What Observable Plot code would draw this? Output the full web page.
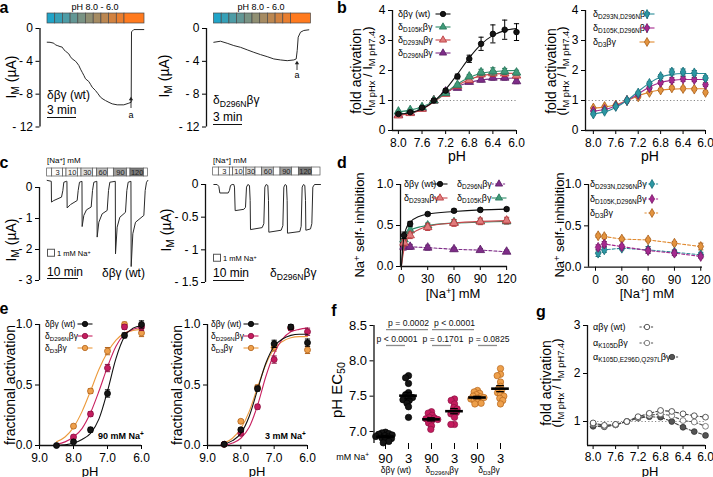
<!DOCTYPE html>
<html><head><meta charset="utf-8">
<script src="https://cdn.jsdelivr.net/npm/d3@7"></script>
<script src="https://cdn.jsdelivr.net/npm/@observablehq/plot@0.6"></script>
<style>
body{margin:0;background:#fff;}
#fig{position:relative;width:713px;height:477px;overflow:hidden;font-family:"Liberation Sans",Arial,Helvetica,sans-serif;color:#000;background:#fff;}
#fig svg{position:absolute;overflow:visible;}
.t{position:absolute;white-space:nowrap;line-height:1;}
.t sub{font-size:72%;vertical-align:baseline;position:relative;top:0.3em;}
.t sup{font-size:72%;vertical-align:baseline;position:relative;top:-0.4em;}
</style></head><body><div id="fig"></div>
<script>
// ================= DATA =================
// panel a: pH protocol and traces [time (min), current (µA)]
const pHSteps = [8.0, 7.8, 7.6, 7.4, 7.2, 7.0, 6.8, 6.6, 6.4, 6.2, 6.0];
const pHStepEdges = [0.75, 1.52, 2.29, 3.06, 3.83, 4.6, 5.37, 6.14, 6.91, 7.68, 8.45, 10.45];
const traceA_wt = [[0.72,-1.67],[1.0,-1.68],[1.38,-1.79],[1.55,-2.0],[1.72,-2.07],[2.0,-2.2],[2.22,-2.27],[2.4,-2.6],[2.55,-2.76],[2.88,-3.09],[3.05,-3.45],[3.22,-3.7],[3.55,-3.98],[3.7,-4.2],[3.88,-4.5],[4.05,-4.95],[4.22,-5.33],[4.4,-5.75],[4.55,-6.13],[4.88,-6.46],[5.05,-6.8],[5.22,-7.15],[5.55,-7.56],[5.8,-7.95],[6.05,-8.37],[6.3,-8.6],[6.55,-8.78],[6.9,-9.0],[7.22,-9.18],[7.72,-9.3],[8.38,-9.3],[8.88,-9.1],[9.12,-8.98],[9.15,-0.41],[9.38,-0.13],[10.38,-0.13]];
const traceA_d296n = [[0.73,-1.68],[1.4,-1.55],[2.07,-1.8],[2.73,-2.08],[3.4,-2.29],[4.07,-2.6],[4.73,-2.9],[5.4,-3.18],[6.07,-3.43],[6.73,-3.71],[7.4,-3.83],[8.07,-3.92],[8.73,-3.83],[8.97,-3.71],[9.07,-2.7],[9.17,-1.06],[9.4,-0.45],[9.73,-0.24],[10.23,-0.16]];

// panel c: Na+ protocol and traces [time (min), current (µA)]
const naSteps = [1, 3, 1, 10, 1, 30, 1, 60, 1, 90, 1, 120, 1];
const naEdges_wt = [2.47, 4.09, 7.63, 8.71, 12.37, 13.55, 17.31, 18.6, 22.15, 23.98, 28.28, 29.35, 33.66, 34.95];
const naEdges_d296n = [2.47, 4.3, 7.85, 8.92, 12.37, 13.23, 16.13, 18.28, 22.04, 24.19, 27.96, 30.11, 34.41, 37.1];
const traceC_wt = [[2.47,0.23],[3.8,0.2],[3.87,-0.47],[4.62,-0.42],[7.1,-0.31],[7.53,-0.1],[7.85,0.17],[8.71,0.2],[8.85,0.2],[8.92,-0.66],[10.0,-0.55],[12.15,-0.42],[12.47,-0.1],[12.9,0.17],[13.7,0.2],[13.76,-1.26],[14.3,-0.9],[15.16,-0.72],[16.67,-0.63],[17.1,-0.1],[17.53,0.17],[18.5,0.2],[18.6,-1.6],[19.14,-1.12],[20.21,-0.85],[21.83,-0.74],[22.26,-0.1],[22.69,0.17],[24.45,0.2],[24.52,-2.14],[25.05,-1.28],[25.91,-0.96],[27.74,-0.8],[28.17,-0.1],[28.6,0.17],[29.5,0.2],[29.57,-2.55],[30.11,-1.49],[30.97,-1.12],[33.66,-0.9],[34.09,-0.1],[34.52,0.17],[34.95,0.23]];
const traceC_d296n = [[2.69,0],[3.76,0],[4.3,-0.03],[4.62,-0.13],[7.31,-0.13],[7.74,-0.09],[8.06,-0.015],[8.6,0],[9.14,0],[9.35,-0.04],[9.57,-0.4],[12.37,-0.38],[12.9,-0.35],[13.23,-0.04],[13.66,0],[14.19,-0.015],[14.41,-0.245],[14.52,-0.69],[18.28,-0.66],[18.82,-0.6],[19.14,-0.04],[19.57,0],[20.11,-0.015],[20.32,-0.245],[20.43,-0.73],[24.41,-0.7],[24.95,-0.63],[25.27,-0.04],[25.7,0],[26.13,-0.015],[26.34,-0.245],[26.45,-0.745],[30.43,-0.72],[30.86,-0.64],[31.18,-0.04],[31.61,0],[32.04,-0.015],[32.26,-0.245],[32.37,-0.7],[33.87,-0.68],[34.3,-0.6],[34.62,-0.04],[35.16,0],[37.1,0]];

// panel b: fold activation vs pH
const pH11 = [8.0, 7.8, 7.6, 7.4, 7.2, 7.0, 6.8, 6.6, 6.4, 6.2, 6.0];
const b_wt = [0.55, 0.61, 0.76, 1.0, 1.33, 1.8, 2.39, 2.89, 3.22, 3.36, 3.28];
const b_wt_err = [0.03, 0.03, 0.03, 0, 0.05, 0.08, 0.12, 0.22, 0.3, 0.32, 0.28];
const b_wt_fit = [0.54, 0.6, 0.72, 0.97, 1.37, 1.88, 2.42, 2.87, 3.17, 3.33, 3.4];
const b_d105k = [0.63, 0.68, 0.78, 1.0, 1.25, 1.52, 1.8, 1.94, 1.97, 1.97, 1.93];
const b_d105k_err = [0.03, 0.03, 0.03, 0, 0.04, 0.05, 0.06, 0.1, 0.12, 0.1, 0.08];
const b_d105k_fit = [0.62, 0.68, 0.79, 0.98, 1.26, 1.55, 1.77, 1.9, 1.96, 1.99, 2.0];
const b_d293n = [0.5, 0.58, 0.72, 1.0, 1.22, 1.48, 1.68, 1.87, 1.9, 1.9, 1.83];
const b_d293n_err = [0.03, 0.03, 0.03, 0, 0.04, 0.05, 0.06, 0.08, 0.1, 0.1, 0.08];
const b_d293n_fit = [0.5, 0.57, 0.7, 0.95, 1.24, 1.5, 1.7, 1.82, 1.88, 1.9, 1.91];
const b_d296n = [0.52, 0.6, 0.74, 1.0, 1.3, 1.42, 1.62, 1.69, 1.76, 1.76, 1.64];
const b_d296n_err = [0.03, 0.03, 0.03, 0, 0.04, 0.05, 0.06, 0.07, 0.08, 0.08, 0.08];
const b_d296n_fit = [0.51, 0.58, 0.72, 0.97, 1.25, 1.47, 1.6, 1.68, 1.72, 1.74, 1.75];
const b_dd1 = [0.55, 0.64, 0.8, 1.0, 1.25, 1.57, 1.8, 1.95, 1.95, 1.92, 1.75];
const b_dd1_err = [0.03, 0.03, 0.03, 0, 0.04, 0.05, 0.06, 0.1, 0.1, 0.08, 0.07];
const b_dd1_fit = [0.55, 0.62, 0.77, 1.0, 1.3, 1.58, 1.78, 1.87, 1.9, 1.9, 1.9];
const b_dd2 = [0.65, 0.7, 0.82, 1.0, 1.2, 1.42, 1.6, 1.68, 1.72, 1.7, 1.53];
const b_dd2_err = [0.03, 0.03, 0.03, 0, 0.04, 0.05, 0.06, 0.08, 0.08, 0.07, 0.06];
const b_dd2_fit = [0.65, 0.7, 0.82, 1.0, 1.22, 1.45, 1.6, 1.67, 1.7, 1.7, 1.7];
const b_d3 = [0.75, 0.8, 0.85, 1.0, 1.12, 1.27, 1.35, 1.42, 1.4, 1.38, 1.27];
const b_d3_err = [0.02, 0.02, 0.02, 0, 0.03, 0.03, 0.04, 0.05, 0.05, 0.05, 0.05];
const b_d3_fit = [0.75, 0.78, 0.86, 1.0, 1.15, 1.28, 1.35, 1.38, 1.39, 1.39, 1.39];

// panel d: Na+ self-inhibition vs [Na+]
const naConc = [3, 10, 30, 60, 90, 120];
const naFitX = [0, 1, 2, 3, 5, 10, 20, 30, 60, 90, 120];
const d_wt = [0.38, 0.52, 0.64, 0.68, 0.69, 0.7];
const d_wt_err = [0.04, 0.03, 0.02, 0.02, 0.02, 0.02];
const d_wt_fit = [0, 0.16, 0.28, 0.36, 0.45, 0.54, 0.61, 0.64, 0.67, 0.69, 0.7];
const d_d293n = [0.29, 0.38, 0.48, 0.53, 0.55, 0.56];
const d_d293n_err = [0.04, 0.04, 0.04, 0.04, 0.04, 0.04];
const d_d293n_fit = [0, 0.08, 0.15, 0.21, 0.29, 0.38, 0.45, 0.49, 0.53, 0.55, 0.56];
const d_d105k = [0.33, 0.44, 0.5, 0.54, 0.55, 0.55];
const d_d105k_err = [0.04, 0.04, 0.03, 0.03, 0.03, 0.03];
const d_d105k_fit = [0, 0.12, 0.21, 0.28, 0.36, 0.44, 0.48, 0.5, 0.53, 0.54, 0.55];
const d_d296n = [0.24, 0.24, 0.23, 0.21, 0.2, 0.18];
const d_d296n_err = [0.04, 0.03, 0.03, 0.02, 0.02, 0.02];
const d_dd1 = [0.17, 0.21, 0.23, 0.21, 0.18, 0.15];
const d_dd1_err = [0.04, 0.03, 0.02, 0.04, 0.03, 0.03];
const d_dd2 = [0.24, 0.28, 0.25, 0.2, 0.17, 0.13];
const d_dd2_err = [0.03, 0.03, 0.02, 0.03, 0.03, 0.02];
const d_d3 = [0.38, 0.37, 0.34, 0.33, 0.29, 0.25];
const d_d3_err = [0.02, 0.02, 0.02, 0.02, 0.02, 0.04];

// panel e: fractional activation vs pH
const eX = [8.5, 8.0, 7.5, 7.0, 6.5, 6.0];
const eFitX = [8.5, 8.25, 8.0, 7.75, 7.5, 7.25, 7.0, 6.75, 6.5, 6.25, 6.0];
const e90_wt = [0, 0.03, 0.13, 0.43, 0.91, 1.0];
const e90_wt_fit = [0, 0.005, 0.02, 0.05, 0.1, 0.22, 0.45, 0.72, 0.9, 0.97, 0.99];
const e90_d296n = [null, 0.07, 0.26, 0.64, 0.98, 0.98];
const e90_d296n_fit = [0.01, 0.03, 0.07, 0.14, 0.27, 0.45, 0.65, 0.82, 0.92, 0.96, 0.98];
const e90_d3 = [null, 0.16, 0.45, 0.78, 1.0, 0.93];
const e90_d3_fit = [0.03, 0.07, 0.15, 0.28, 0.45, 0.63, 0.77, 0.87, 0.93, 0.95, 0.96];
const e3_wt = [0.01, 0.13, 0.47, 0.84, 0.98, 0.85];
const e3_wt_fit = [0.01, 0.04, 0.1, 0.24, 0.46, 0.68, 0.82, 0.88, 0.91, 0.92, 0.92];
const e3_d296n = [0.01, 0.1, 0.32, 0.71, 0.97, 0.94];
const e3_d296n_fit = [0, 0.02, 0.06, 0.15, 0.33, 0.57, 0.76, 0.88, 0.94, 0.96, 0.97];
const e3_d3 = [0.01, 0.2, 0.48, 0.81, 0.97, 0.79];
const e3_d3_fit = [0.02, 0.06, 0.14, 0.28, 0.48, 0.67, 0.8, 0.86, 0.89, 0.9, 0.9];
const e_err = [0, 0.015, 0.02, 0.03, 0.02, 0.03];

// panel f: pH EC50 per oocyte
const fNa = ["90", "3", "90", "3", "90", "3"];
const f_wt90 = [6.99, 6.98, 6.97, 6.96, 6.95, 6.94, 6.93, 6.92, 6.91, 6.9, 6.88, 6.86, 6.84];
const f_wt3 = [7.79, 7.76, 7.68, 7.55, 7.52, 7.5, 7.48, 7.47, 7.45, 7.44, 7.4, 7.35, 7.2];
const f_d296n90 = [7.28, 7.26, 7.23, 7.2, 7.19, 7.18, 7.17, 7.15, 7.12, 7.08, 7.03];
const f_d296n3 = [7.46, 7.44, 7.39, 7.34, 7.32, 7.29, 7.27, 7.25, 7.2, 7.1, 7.1];
const f_d390 = [7.58, 7.56, 7.54, 7.52, 7.5, 7.49, 7.48, 7.47, 7.46, 7.44, 7.42, 7.4, 7.39];
const f_d33 = [7.89, 7.81, 7.79, 7.7, 7.64, 7.6, 7.58, 7.55, 7.52, 7.5, 7.47, 7.44, 7.39];
const fComparisons = [
  {a: 0, b: 2, row: 1, p: "p = 0.0002"},
  {a: 2, b: 4, row: 1, p: "p < 0.0001"},
  {a: 0, b: 1, row: 2, p: "p < 0.0001"},
  {a: 2, b: 3, row: 2, p: "p = 0.1701"},
  {a: 4, b: 5, row: 2, p: "p = 0.0825"}
];

// panel g: fold activation vs pH (alpha subunits)
const g_wt = [0.97, 0.92, 0.94, 1.0, 1.1, 1.17, 1.23, 1.21, 1.16, 1.12, 1.09];
const g_k105d = [0.95, 0.9, 0.93, 1.0, 1.08, 1.13, 1.16, 1.12, 1.02, 0.99, 0.9];
const g_triple = [0.9, 0.89, 0.93, 1.0, 1.07, 1.1, 1.09, 1.0, 0.88, 0.79, 0.71];
const g_err = [0.02, 0.02, 0.02, 0, 0.02, 0.02, 0.02, 0.02, 0.02, 0.02, 0.03];

// ================= HELPERS =================
const FONT = '"Liberation Sans", Arial, Helvetica, sans-serif';
const fig = document.getElementById("fig");
const COL = {
  wt: {fill: "#151515", stroke: "#000", line: "#111"},
  d105k: {fill: "#3f9a78", stroke: "#27765a", line: "#2f8a68"},
  d293n: {fill: "#e07c7c", stroke: "#b8363b", line: "#c8464a"},
  d296n: {fill: "#7e2d88", stroke: "#5a1d64", line: "#7e2d88"},
  dd1: {fill: "#2c97a3", stroke: "#1b6e78", line: "#2a8c98"},
  dd2: {fill: "#a5298f", stroke: "#781a68", line: "#a5298f"},
  d3: {fill: "#e3943f", stroke: "#a9601c", line: "#e08a30"},
  eD296N: {fill: "#c41c5e", stroke: "#8c1243", line: "#c8205f"},
  eD3: {fill: "#eea04b", stroke: "#b4661e", line: "#ec9a3c"},
  gwt: {fill: "#fff", stroke: "#333", line: "#444"},
  gk: {fill: "#fff", stroke: "#666", line: "#555"},
  gt: {fill: "#555", stroke: "#333", line: "#444"}
};

function mkPlot(fr, opts, fontSize = 12) {
  const pad = {l: 48, r: 25, t: 15, b: 30};
  const left = Math.floor(fr.L - pad.l), top = Math.floor(fr.T - pad.t);
  const width = Math.ceil(fr.R + pad.r) - left;
  const height = Math.ceil(fr.B + pad.b) - top;
  const svg = Plot.plot({
    width, height,
    marginLeft: fr.L - left, marginTop: fr.T - top,
    marginRight: width - (fr.R - left), marginBottom: height - (fr.B - top),
    style: {fontFamily: FONT, fontSize: fontSize + "px", background: "none", overflow: "visible", color: "#000"},
    ...opts
  });
  svg.style.position = "absolute";
  svg.style.left = left + "px";
  svg.style.top = top + "px";
  svg.style.maxWidth = "none";
  fig.appendChild(svg);
  return svg;
}
function txt(html, x, y, o = {}) {
  const d = document.createElement("div");
  d.className = "t";
  d.innerHTML = html;
  d.style.left = x + "px";
  d.style.top = y + "px";
  d.style.fontSize = (o.size || 12) + "px";
  if (o.bold) d.style.fontWeight = "bold";
  if (o.color) d.style.color = o.color;
  const tx = o.anchor === "middle" ? "-50%" : o.anchor === "end" ? "-100%" : "0";
  d.style.transform = `translate(${tx},-50%)`;
  fig.appendChild(d);
}
function vtxt(html, x, y, size) {
  const d = document.createElement("div");
  d.className = "t";
  d.innerHTML = html;
  d.style.left = x + "px";
  d.style.top = y + "px";
  d.style.fontSize = size + "px";
  d.style.transform = "translate(-50%,-50%) rotate(-90deg)";
  fig.appendChild(d);
}
function hline(x, y, w) {
  const d = document.createElement("div");
  d.style.cssText = `position:absolute;left:${x}px;top:${y}px;width:${w}px;height:1.3px;background:#111;`;
  fig.appendChild(d);
}
function arrow(x, y1, y2) {
  fig.insertAdjacentHTML("beforeend",
    `<svg width="8" height="${y2 - y1 + 2}" style="left:${x - 4}px;top:${y1 - 1}px">
      <line x1="4" y1="2" x2="4" y2="${y2 - y1 + 1}" stroke="#222" stroke-width="0.9"/>
      <path d="M1.8,4.2 L4,0.8 L6.2,4.2 Z" fill="#222"/></svg>`);
}
const SYM = {circle: d3.symbolCircle, triangle: d3.symbolTriangle, diamond: d3.symbolDiamond};
function legendSym(cx, cy, c, shape, dashed, r = 2.7) {
  const path = d3.symbol(SYM[shape], Math.PI * r * r)();
  fig.insertAdjacentHTML("beforeend",
    `<svg width="20" height="12" viewBox="-10 -6 20 12" style="left:${cx - 10}px;top:${cy - 6}px">
      <line x1="-7.5" y1="0" x2="7.5" y2="0" stroke="${c.line}" stroke-width="1.1" ${dashed ? 'stroke-dasharray="2.2,1.6"' : ''}/>
      <path d="${path}" fill="${c.fill}" stroke="${c.stroke}" stroke-width="0.8"/></svg>`);
}
function legend(x, y, html, sx, c, shape, dashed, size = 9) {
  txt(html, x, y, {size});
  legendSym(sx, y, c, shape, dashed);
}

const cap = {draw(ctx) { ctx.moveTo(-2.6, 0); ctx.lineTo(2.6, 0); }};
function seriesMarks(s) {
  const pts = s.x.map((x, i) => ({x, v: s.v[i], e: s.e ? s.e[i] : 0})).filter(d => d.v != null);
  const m = [];
  if (s.fit) m.push(Plot.line(s.fitX.map((x, i) => ({x, v: s.fit[i]})),
    {x: "x", y: "v", stroke: s.c.line, strokeWidth: 1.1, curve: "monotone-x"}));
  if (s.connect) m.push(Plot.line(pts, {x: "x", y: "v", stroke: s.c.line, strokeWidth: 1.1,
    strokeDasharray: s.dash ? "3,2" : "none"}));
  const eb = pts.filter(d => d.e > 0);
  m.push(Plot.ruleX(eb, {x: "x", y1: d => d.v - d.e, y2: d => d.v + d.e, stroke: s.c.stroke, strokeWidth: 1}));
  m.push(Plot.dot(eb, {x: "x", y: d => d.v + d.e, symbol: cap, r: 3, stroke: s.c.stroke, fill: "none", strokeWidth: 1}));
  m.push(Plot.dot(eb, {x: "x", y: d => d.v - d.e, symbol: cap, r: 3, stroke: s.c.stroke, fill: "none", strokeWidth: 1}));
  m.push(Plot.dot(pts, {x: "x", y: "v", symbol: s.symbol || "circle", r: s.r || 2.8,
    fill: s.c.fill, stroke: s.c.stroke, strokeWidth: 0.8}));
  return m;
}
const f1 = d3.format(".1f");
const fInt = d3.format("d");
const fmtNeg = d => d === 0 ? "0" : "- " + Math.abs(d);
const axisLine = {stroke: "#111", strokeWidth: 1.3};
const refLine = {stroke: "#888", strokeWidth: 1.1, strokeDasharray: "1.2,2.2"};
const AX = {tickSize: 4, tickPadding: 3, label: null};

// frames: pixel positions of each plot area in the 713x477 figure
const FR = {
  aL: {L: 39.5, R: 149.5, T: 28, B: 126.5}, aR: {L: 206, R: 316, T: 28, B: 126.5},
  barAL: {L: 39.5, R: 149.5, T: 13, B: 23}, barAR: {L: 206, R: 316, T: 13, B: 23},
  bL: {L: 392, R: 516, T: 10, B: 130}, bR: {L: 585, R: 705, T: 10, B: 130},
  cL: {L: 39, R: 150.6, T: 187, B: 280}, cR: {L: 205, R: 322.8, T: 184, B: 282},
  barCL: {L: 39, R: 150.6, T: 168, B: 176}, barCR: {L: 205, R: 322.8, T: 167, B: 175},
  dL: {L: 400, R: 507, T: 184, B: 266}, dR: {L: 588, R: 702, T: 184, B: 266.7},
  eL: {L: 39, R: 141, T: 324, B: 445}, eR: {L: 207, R: 307, T: 324, B: 445},
  f: {L: 373.5, R: 511.5, T: 325, B: 443},
  g: {L: 587, R: 705, T: 325, B: 445}
};

// ================= PANEL a =================
const pHCells = pHSteps.map((p, i) => ({pH: p, t0: pHStepEdges[i], t1: pHStepEdges[i + 1]}));
for (const [fr, bar, trace] of [[FR.aL, FR.barAL, traceA_wt], [FR.aR, FR.barAR, traceA_d296n]]) {
  mkPlot(bar, {
    x: {domain: [0, 11], axis: null},
    color: {type: "linear", domain: [8.0, 6.0], range: ["#20a4c8", "#ff7a1e"], interpolate: "rgb"},
    marks: [Plot.rect(pHCells, {x1: "t0", x2: "t1", fill: "pH", stroke: "#4a4a4a", strokeWidth: 0.7})]
  });
  mkPlot(fr, {
    x: {domain: [0, 11], axis: null},
    y: {domain: [-12, 0], ticks: [0, -4, -8, -12], tickFormat: fmtNeg, ...AX},
    marks: [
      Plot.ruleX([0], axisLine),
      Plot.line(trace, {x: d => d[0], y: d => d[1], stroke: "#2a2a2a", strokeWidth: 1})
    ]
  });
}

// ================= PANEL b =================
mkPlot(FR.bL, {
  x: {domain: [8.1, 6.0], ticks: [8.0, 7.6, 7.2, 6.8, 6.4, 6.0], tickFormat: f1, ...AX, tickPadding: 4},
  y: {domain: [0, 4], ticks: [0, 1, 2, 3, 4], tickFormat: fInt, ...AX},
  marks: [
    Plot.ruleY([1], refLine),
    Plot.ruleX([8.1], axisLine), Plot.ruleY([0], axisLine),
    ...seriesMarks({x: pH11, v: b_d296n, e: b_d296n_err, fitX: pH11, fit: b_d296n_fit, c: COL.d296n, symbol: "triangle", r: 3.2}),
    ...seriesMarks({x: pH11, v: b_d293n, e: b_d293n_err, fitX: pH11, fit: b_d293n_fit, c: COL.d293n, symbol: "triangle", r: 3.2}),
    ...seriesMarks({x: pH11, v: b_d105k, e: b_d105k_err, fitX: pH11, fit: b_d105k_fit, c: COL.d105k, symbol: "triangle", r: 3.2}),
    ...seriesMarks({x: pH11, v: b_wt, e: b_wt_err, fitX: pH11, fit: b_wt_fit, c: COL.wt})
  ]
});
mkPlot(FR.bR, {
  x: {domain: [8.14, 6.0], ticks: [8.0, 7.6, 7.2, 6.8, 6.4, 6.0], tickFormat: f1, ...AX, tickPadding: 4},
  y: {domain: [0, 4], ticks: [0, 1, 2, 3, 4], tickFormat: fInt, ...AX},
  marks: [
    Plot.ruleY([1], refLine),
    Plot.ruleX([8.14], axisLine), Plot.ruleY([0], axisLine),
    ...seriesMarks({x: pH11, v: b_d3, e: b_d3_err, fitX: pH11, fit: b_d3_fit, c: COL.d3, symbol: "diamond", r: 3}),
    ...seriesMarks({x: pH11, v: b_dd2, e: b_dd2_err, fitX: pH11, fit: b_dd2_fit, c: COL.dd2, symbol: "diamond", r: 3}),
    ...seriesMarks({x: pH11, v: b_dd1, e: b_dd1_err, fitX: pH11, fit: b_dd1_fit, c: COL.dd1, symbol: "diamond", r: 3})
  ]
});

// ================= PANEL c =================
const naCells = edges => naSteps.map((n, i) => ({na: n, t0: edges[i], t1: edges[i + 1]}));
for (const [fr, bar, trace, edges, dom, ticks] of [
  [FR.cL, FR.barCL, traceC_wt, naEdges_wt, [-3, 0], [0, -1, -2, -3]],
  [FR.cR, FR.barCR, traceC_d296n, naEdges_d296n, [-1.5, 0], [0, -0.5, -1, -1.5]]]) {
  const xd = [0, (fr.R - fr.L) / 3.1];
  const cells = naCells(edges);
  mkPlot(bar, {
    x: {domain: xd, axis: null},
    color: {type: "linear", domain: [1, 120], range: ["#ffffff", "#7a7a7a"]},
    marks: [
      Plot.rect(cells, {x1: "t0", x2: "t1", fill: "na", stroke: "#555", strokeWidth: 0.7}),
      Plot.text(cells.filter(d => d.na > 1), {x: d => (d.t0 + d.t1) / 2, text: "na", fontSize: 7.5, fill: "#222"})
    ]
  });
  mkPlot(fr, {
    x: {domain: xd, axis: null},
    y: {domain: dom, ticks, tickFormat: fmtNeg, ...AX},
    marks: [
      Plot.ruleX([0], axisLine),
      Plot.line(trace, {x: d => d[0], y: d => d[1], stroke: "#2a2a2a", strokeWidth: 1})
    ]
  });
}

// ================= PANEL d =================
mkPlot(FR.dL, {
  x: {domain: [-1, 121], ticks: [0, 30, 60, 90, 120], ...AX, tickPadding: 4},
  y: {domain: [0, 1], ticks: [0, 0.5, 1], tickFormat: f1, ...AX},
  marks: [
    Plot.ruleX([-1], axisLine), Plot.ruleY([0], axisLine),
    ...seriesMarks({x: naConc, v: d_d296n, e: d_d296n_err, c: COL.d296n, symbol: "triangle", r: 3.2, connect: true, dash: true}),
    ...seriesMarks({x: naConc, v: d_d105k, e: d_d105k_err, fitX: naFitX, fit: d_d105k_fit, c: COL.d105k, symbol: "triangle", r: 3.2}),
    ...seriesMarks({x: naConc, v: d_d293n, e: d_d293n_err, fitX: naFitX, fit: d_d293n_fit, c: COL.d293n, symbol: "triangle", r: 3.2}),
    ...seriesMarks({x: naConc, v: d_wt, e: d_wt_err, fitX: naFitX, fit: d_wt_fit, c: COL.wt})
  ]
});
mkPlot(FR.dR, {
  x: {domain: [-8, 122], ticks: [0, 30, 60, 90, 120], ...AX, tickPadding: 4},
  y: {domain: [0, 1], ticks: [0, 0.5, 1], tickFormat: f1, ...AX},
  marks: [
    Plot.ruleX([-8], axisLine), Plot.ruleY([0], axisLine),
    ...seriesMarks({x: naConc, v: d_d3, e: d_d3_err, c: COL.d3, symbol: "diamond", r: 3, connect: true, dash: true}),
    ...seriesMarks({x: naConc, v: d_dd1, e: d_dd1_err, c: COL.dd1, symbol: "diamond", r: 3, connect: true, dash: true}),
    ...seriesMarks({x: naConc, v: d_dd2, e: d_dd2_err, c: COL.dd2, symbol: "diamond", r: 3, connect: true, dash: true})
  ]
});

// ================= PANEL e =================
for (const [fr, wt, wtf, m, mf, o, of] of [
  [FR.eL, e90_wt, e90_wt_fit, e90_d296n, e90_d296n_fit, e90_d3, e90_d3_fit],
  [FR.eR, e3_wt, e3_wt_fit, e3_d296n, e3_d296n_fit, e3_d3, e3_d3_fit]]) {
  mkPlot(fr, {
    x: {domain: [9, 6], ticks: [9, 8, 7, 6], tickFormat: f1, ...AX, tickPadding: 4},
    y: {domain: [0, 1], ticks: [0, 0.5, 1], tickFormat: f1, ...AX},
    marks: [
      Plot.ruleX([9], axisLine), Plot.ruleY([0], axisLine),
      ...seriesMarks({x: eX, v: o, e: e_err, fitX: eFitX, fit: of, c: COL.eD3, r: 3}),
      ...seriesMarks({x: eX, v: m, e: e_err, fitX: eFitX, fit: mf, c: COL.eD296N, r: 3}),
      ...seriesMarks({x: eX, v: wt, e: e_err, fitX: eFitX, fit: wtf, c: COL.wt, r: 3})
    ]
  });
}

// ================= PANEL f =================
const fGroups = [
  {key: "wt90", v: f_wt90, c: COL.wt}, {key: "wt3", v: f_wt3, c: COL.wt},
  {key: "m90", v: f_d296n90, c: COL.eD296N}, {key: "m3", v: f_d296n3, c: COL.eD296N},
  {key: "o90", v: f_d390, c: COL.eD3}, {key: "o3", v: f_d33, c: COL.eD3}
];
const fPts = fGroups.flatMap(g => g.v.map(v => ({key: g.key, v, fill: g.c.fill, stroke: g.c.stroke})));
const fStats = fGroups.map(g => {
  const m = d3.mean(g.v), s = d3.deviation(g.v) / Math.sqrt(g.v.length);
  return {key: g.key, m, lo: m - s, hi: m + s};
});
const fDom = [6.83, 8.5];
mkPlot(FR.f, {
  fx: {domain: fGroups.map(g => g.key), paddingInner: 0.1, paddingOuter: 0.05, round: false, axis: null, label: null},
  y: {domain: fDom, axis: null},
  color: {type: "identity"},
  marks: [
    Plot.dot(fPts, Plot.dodgeX({anchor: "middle", padding: -2.8}, {fx: "key", y: "v", r: 3.2, fill: "fill", stroke: "stroke", strokeWidth: 0.7})),
    Plot.ruleX(fStats, {fx: "key", y1: "lo", y2: "hi", stroke: "#000", strokeWidth: 1.3}),
    Plot.tickY(fStats, {fx: "key", y: "hi", insetLeft: 6.5, insetRight: 6.5, stroke: "#000", strokeWidth: 1.3}),
    Plot.tickY(fStats, {fx: "key", y: "lo", insetLeft: 6.5, insetRight: 6.5, stroke: "#000", strokeWidth: 1.3}),
    Plot.tickY(fStats, {fx: "key", y: "m", insetLeft: 1.5, insetRight: 1.5, stroke: "#000", strokeWidth: 2.6})
  ]
});
const rowY = d => fDom[1] - (d.row === 1 ? 0.057 : 0.283);
mkPlot(FR.f, {
  x: {domain: [-0.5, 5.5], ticks: [0, 1, 2, 3, 4, 5], tickFormat: i => fNa[i], tickSize: 6, tickPadding: 4, label: null},
  y: {domain: fDom, ticks: [7, 7.5, 8, 8.5], tickFormat: f1, ...AX},
  marks: [
    Plot.ruleX([-0.5], axisLine),
    Plot.ruleY(fComparisons, {x1: "a", x2: "b", y: rowY, stroke: "#8a8a8a", strokeWidth: 1.3, insetLeft: 1, insetRight: 3}),
    Plot.text(fComparisons, {x: d => (d.a + d.b) / 2, y: rowY, text: "p", dy: -6, fontSize: 8.6, fill: "#111"})
  ]
}, 13);

// ================= PANEL g =================
mkPlot(FR.g, {
  x: {domain: [8.1, 6.0], ticks: [8.0, 7.6, 7.2, 6.8, 6.4, 6.0], tickFormat: f1, ...AX, tickPadding: 3},
  y: {domain: [0.5, 3], ticks: [1, 2, 3], tickFormat: fInt, ...AX},
  marks: [
    Plot.ruleY([1], refLine),
    Plot.ruleX([8.1], axisLine), Plot.ruleY([0.5], axisLine),
    ...seriesMarks({x: pH11, v: g_triple, e: g_err, c: COL.gt, connect: true, dash: true, r: 2.9}),
    ...seriesMarks({x: pH11, v: g_k105d, e: g_err, c: COL.gk, connect: true, dash: true, r: 2.9}),
    ...seriesMarks({x: pH11, v: g_wt, e: g_err, c: COL.gwt, connect: true, dash: true, r: 2.9})
  ]
});

// ================= TEXT =================
const letters = [["a", 4, 8], ["b", 342, 8], ["c", 4, 163], ["d", 342, 163], ["e", 4, 309], ["f", 334, 311], ["g", 541, 312]];
for (const [l, x, y] of letters) txt(l, x, y, {size: 16, bold: true, anchor: "middle"});

// a
txt("pH 8.0 - 6.0", 95, 7, {size: 9, anchor: "middle"});
txt("pH 8.0 - 6.0", 261, 7, {size: 9, anchor: "middle"});
vtxt("I<sub>M</sub> (µA)", 11, 77, 14);
vtxt("I<sub>M</sub> (µA)", 164, 76, 14);
txt("δβγ (wt)", 47, 95, {size: 12});
txt("3 min", 47, 110, {size: 12}); hline(47, 117, 29);
arrow(131, 97, 108); txt("a", 131, 115, {size: 9, anchor: "middle"});
txt("δ<sub>D296N</sub>βγ", 213, 100, {size: 12});
txt("3 min", 213, 117, {size: 12}); hline(213, 124, 29);
arrow(297, 61, 70); txt("a", 297, 75, {size: 9, anchor: "middle"});

// b
vtxt("fold activation", 356, 71, 14);
vtxt("(I<sub>M pHx</sub> / I<sub>M pH7.4</sub>)", 368, 71, 13);
vtxt("fold activation", 551, 71, 14);
vtxt("(I<sub>M pHx</sub> / I<sub>M pH7.4</sub>)", 562, 71, 13);
txt("pH", 457, 156, {size: 14, anchor: "middle"});
txt("pH", 650, 156, {size: 14, anchor: "middle"});
legend(398, 14, "δβγ (wt)", 443, COL.wt, "circle");
legend(398, 27, "δ<sub>D105K</sub>βγ", 443, COL.d105k, "triangle");
legend(398, 40, "δ<sub>D293N</sub>βγ", 443, COL.d293n, "triangle");
legend(398, 53, "δ<sub>D296N</sub>βγ", 443, COL.d296n, "triangle");
legend(593, 14, "δ<sub>D293N,D296N</sub>βγ", 647, COL.dd1, "diamond");
legend(593, 28, "δ<sub>D105K,D296N</sub>βγ", 647, COL.dd2, "diamond");
legend(593, 42, "δ<sub>D3</sub>βγ", 647, COL.d3, "diamond");

// c
const box = '<span style="display:inline-block;width:6px;height:6px;border:0.8px solid #555;margin-right:2px;vertical-align:-1px"></span>';
txt("[Na<sup>+</sup>] mM", 47, 161, {size: 8});
txt("[Na<sup>+</sup>] mM", 213, 161, {size: 8});
vtxt("I<sub>M</sub> (µA)", 11, 240, 14);
vtxt("I<sub>M</sub> (µA)", 166, 230, 14);
txt(box + "1 mM Na<sup>+</sup>", 47, 253, {size: 7.5});
txt(box + "1 mM Na<sup>+</sup>", 213, 258, {size: 7.5});
txt("10 min", 47, 272, {size: 12}); hline(47, 278, 31);
txt("10 min", 213, 273, {size: 12}); hline(213, 280, 31);
txt("δβγ (wt)", 102, 273, {size: 12});
txt("δ<sub>D296N</sub>βγ", 270, 273, {size: 12});

// d
vtxt("Na<sup>+</sup> self- inhibition", 360, 225, 13);
vtxt("Na<sup>+</sup> self- inhibition", 560, 225, 13);
txt("[Na<sup>+</sup>] mM", 453, 294, {size: 13, anchor: "middle"});
txt("[Na<sup>+</sup>] mM", 647, 294, {size: 13, anchor: "middle"});
legend(404, 184, "δβγ (wt)", 440, COL.wt, "circle");
legend(404, 198, "δ<sub>D293N</sub>βγ", 440, COL.d293n, "triangle");
legend(457, 184, "δ<sub>D296N</sub>βγ", 499, COL.d296n, "triangle", true);
legend(457, 198, "δ<sub>D105K</sub>βγ", 499, COL.d105k, "triangle");
legend(590, 184, "δ<sub>D293N,D296N</sub>βγ", 652, COL.dd1, "diamond", true);
legend(590, 199, "δ<sub>D105K,D296N</sub>βγ", 652, COL.dd2, "diamond", true);
legend(590, 213, "δ<sub>D3</sub>βγ", 652, COL.d3, "diamond", true);

// e
vtxt("fractional activation", 10, 385, 14);
vtxt("fractional activation", 177, 385, 14);
txt("pH", 90, 470.5, {size: 13, anchor: "middle"});
txt("pH", 257, 470.5, {size: 13, anchor: "middle"});
for (const [x, sx] of [[45, 85], [211, 251]]) {
  legend(x, 324, "δβγ (wt)", sx, COL.wt, "circle", false, 8.5);
  legend(x, 336, "δ<sub>D296N</sub>βγ", sx, COL.eD296N, "circle", false, 8.5);
  legend(x, 348, "δ<sub>D3</sub>βγ", sx, COL.eD3, "circle", false, 8.5);
}
txt("90 mM Na<sup>+</sup>", 98, 436, {size: 9, bold: true});
txt("3 mM Na<sup>+</sup>", 265, 436, {size: 9, bold: true});

// f
vtxt("pH EC<sub>50</sub>", 336, 390, 15);
txt("mM Na<sup>+</sup>", 369, 457, {size: 9, anchor: "end"});
txt("δβγ (wt)", 396, 470, {size: 8.5, anchor: "middle"});
txt("δ<sub>D296N</sub>βγ", 442, 470, {size: 8.5, anchor: "middle"});
txt("δ<sub>D3</sub>βγ", 489, 470, {size: 8.5, anchor: "middle"});

// g
vtxt("fold activation", 546, 383, 14);
vtxt("(I<sub>M pHx</sub> / I<sub>M pH7.4</sub>)", 557, 383, 13);
txt("pH", 650, 470.5, {size: 13, anchor: "middle"});
legend(593, 327, "αβγ (wt)", 647, COL.gwt, "circle", true);
legend(593, 343, "α<sub>K105D</sub>βγ", 647, COL.gk, "circle", true);
legend(593, 357, "α<sub>K105D,E296D,Q297L</sub>βγ", 672, COL.gt, "circle", true);
</script></body></html>
